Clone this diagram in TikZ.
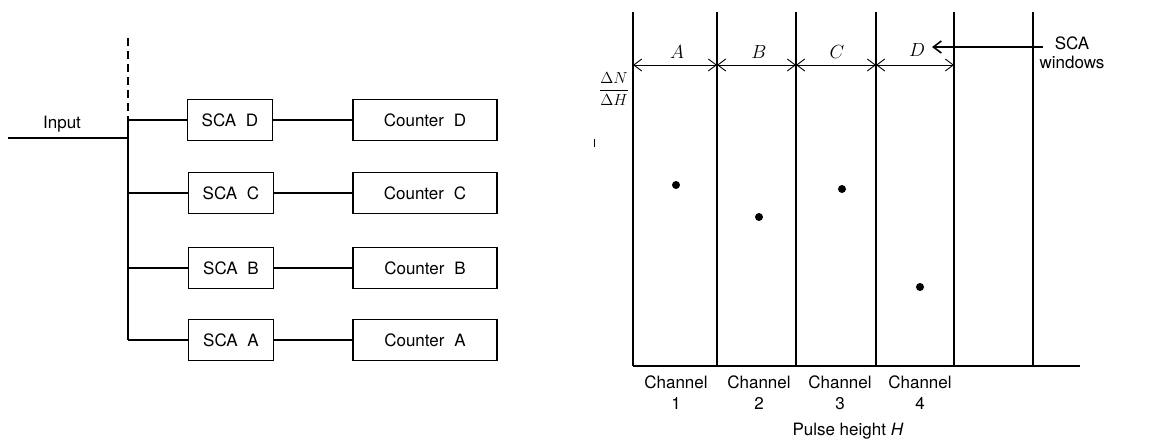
\documentclass[tikz,border=0pt]{standalone}
\usepackage{fix-cm}
\usepackage{fontspec}
\setmainfont{TeX Gyre Heros}
\usetikzlibrary{arrows.meta}
\begin{document}
\begin{tikzpicture}[x=1pt,y=-1pt,
  lbl/.style={font=\fontsize{17}{19}\selectfont, inner sep=0pt},
  box/.style={draw, line width=1.5pt, minimum height=41pt, inner sep=0pt, font=\fontsize{17}{19}\selectfont},
  scabox/.style={box, minimum width=85pt},
  cntbox/.style={box, minimum width=144pt},
  wire/.style={line width=1.5pt},
  chan/.style={line width=1.3pt},
  win/.style={line width=0.9pt, {Straight Barb[length=8pt,width=12pt]}-{Straight Barb[length=8pt,width=12pt]}},
  dot/.style={circle, fill=black, inner sep=0pt, minimum size=8pt},
  ital/.style={font=\fontsize{19}{21}\selectfont, inner sep=0pt}]
\useasboundingbox (0,0) rectangle (1170,442);
% ---------- left: SCA / counter block diagram
\node[scabox] (sd) at (230,120) {SCA\hspace{0.3em} D};
\node[scabox] (sc) at (231,193) {SCA\hspace{0.3em} C};
\node[scabox] (sb) at (231,268) {SCA\hspace{0.3em} B};
\node[scabox] (sa) at (231,340) {SCA\hspace{0.3em} A};
\node[cntbox] (cd) at (425,120) {Counter\hspace{0.3em} D};
\node[cntbox] (cc) at (425,193) {Counter\hspace{0.3em} C};
\node[cntbox] (cb) at (425,268) {Counter\hspace{0.3em} B};
\node[cntbox] (ca) at (425,340) {Counter\hspace{0.3em} A};
\coordinate (top) at (128,38);
\coordinate (jd) at (128,120);
\coordinate (jc) at (128,193);
\coordinate (jb) at (128,268);
\coordinate (ja) at (128,340);
\coordinate (ji) at (128,138);
\coordinate (in) at (8,138);
\draw[wire, dashed, dash pattern=on 8pt off 5pt] (top) -- (jd);
\draw[wire] (jd) -- (ja);
\draw[wire] (in) -- (ji);
\node[lbl] (inlbl) at (62,124) {Input};
\draw[wire] (jd) -- (sd.west);
\draw[wire] (jc) -- (sc.west);
\draw[wire] (jb) -- (sb.west);
\draw[wire] (ja) -- (sa.west);
\draw[wire] (sd) -- (cd);
\draw[wire] (sc) -- (cc);
\draw[wire] (sb) -- (cb);
\draw[wire] (sa) -- (ca);
% ---------- right: channel plot
\foreach \n/\x in {1/633,2/717,3/796,4/876,5/954,6/1033} {
  \coordinate (t\n) at (\x,12);
  \coordinate (b\n) at (\x,366);
  \coordinate (w\n) at (\x,65);
  \draw[chan] (t\n) -- (b\n);
}
\coordinate (axend) at (1080,366);
\draw[chan] (b1) -- (axend);
\draw[win] (w1) -- (w2);
\draw[win] (w2) -- (w3);
\draw[win] (w3) -- (w4);
\draw[win] (w4) -- (w5);
\node[ital] (la) at (677,52) {$A$};
\node[ital] (lb) at (759,52) {$B$};
\node[ital] (lc) at (837,52) {$C$};
\node[ital] (ld) at (917,50) {$D$};
\node[lbl, align=center] (sca) at (1072,53) {SCA\\windows};
\coordinate (ds) at (1043,47);
\coordinate (de) at (932,47);
\draw[line width=1.6pt, -{Straight Barb[length=8pt,width=12pt]}] (ds) -- (de);
\node[inner sep=0pt, font=\fontsize{16}{18}\selectfont] (frac) at (614,89) {$\displaystyle\frac{\Delta N}{\Delta H}$};
\coordinate (tk1) at (594,139);
\coordinate (tk2) at (594,147);
\draw[line width=0.8pt] (tk1) -- (tk2);
\node[dot] (d1) at (676,185) {};
\node[dot] (d2) at (759,217) {};
\node[dot] (d3) at (842,189) {};
\node[dot] (d4) at (920,287) {};
\node[lbl, align=center] (c1) at (676,393) {Channel\\[2pt]1};
\node[lbl, align=center] (c2) at (759,393) {Channel\\[2pt]2};
\node[lbl, align=center] (c3) at (840,393) {Channel\\[2pt]3};
\node[lbl, align=center] (c4) at (920,393) {Channel\\[2pt]4};
\node[lbl] (ph) at (848,431) {Pulse height \textit{H}};
\end{tikzpicture}
\end{document}
